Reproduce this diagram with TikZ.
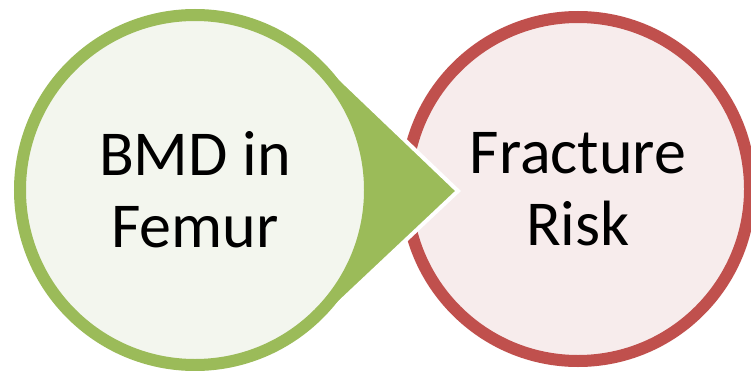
\documentclass[tikz,border=0pt]{standalone}
\usepackage{fontspec}
\setmainfont{Carlito}
\usepackage{tikz}
\usetikzlibrary{positioning,calc}
\definecolor{leaf}{HTML}{9BBB59}
\definecolor{leaflight}{HTML}{F3F6EE}
\definecolor{brick}{HTML}{C0504D}
\definecolor{bricklight}{HTML}{F7ECEC}

\begin{document}
\begin{tikzpicture}[x=1pt,y=1pt,
  bubble/.style={circle,line width=12pt,align=center,inner sep=0pt,font=\fontsize{64}{72}\selectfont}]
\useasboundingbox (0,0) rectangle (751,370);
\node[bubble,minimum size=344pt,draw=brick,fill=bricklight] (risk) at (578,181) {Fracture\\Risk};
\coordinate (bmdc) at (195,180);
\coordinate (tip) at (458,179);
\filldraw[fill=leaf,draw=white,line width=4pt,line join=miter] (bmdc) -- ($(bmdc)+(46.5:181)$) -- (tip) -- ($(bmdc)+(-46.5:181)$) -- cycle;
\node[bubble,minimum size=350pt,draw=leaf,fill=leaflight] (bmd) at (bmdc) {BMD in\\Femur};
\end{tikzpicture}
\end{document}
